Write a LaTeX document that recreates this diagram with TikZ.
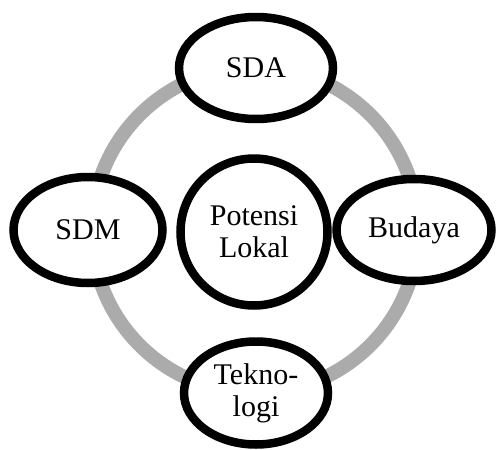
\documentclass[tikz,border=0pt]{standalone}
\usepackage{fontspec}
\setmainfont{Liberation Serif}
\usetikzlibrary{shapes.geometric,shadows}
\begin{document}
\begin{tikzpicture}[x=1pt, y=-1pt]
	\tikzstyle{every node}=[ellipse, draw, line width=8.5pt, fill=white,
		align=center, font=\fontsize{30}{32}\selectfont,
		drop shadow={shadow xshift=0pt, shadow yshift=-3pt, opacity=0.15}]
	\tikzstyle{ring}=[line width=14pt, draw=black!33]
	\useasboundingbox (0,0) rectangle (496,450);
	% lingkaran abu-abu di belakang
	\coordinate (Pusat) at (255,230);
	\draw[ring] (Pusat) circle[radius=163pt];
	\node[circle, minimum size=147pt] (Potensi) at (254,232) {Potensi\\Lokal};
	\node[minimum width=154pt, minimum height=102pt] (SDA) at (256,68) {SDA};
	\node[minimum width=149pt, minimum height=106pt] (SDM) at (88,230) {SDM};
	\node[minimum width=155pt, minimum height=102pt] (Budaya) at (414,230) {Budaya};
	\node[minimum width=144pt, minimum height=103pt] (Teknologi) at (256,393) {Tekno-\\logi};
\end{tikzpicture}
\end{document}
